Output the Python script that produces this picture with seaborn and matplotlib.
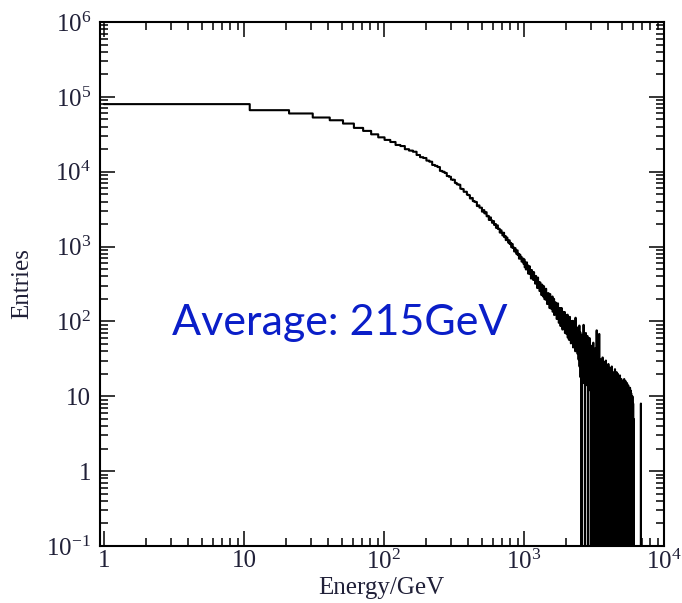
"""
Energy spectrum (Entries vs Energy/GeV) on log-log axes, step histogram
"""

import numpy as np
import pandas as pd
import matplotlib
matplotlib.use('Agg')
import matplotlib.pyplot as plt
import matplotlib.ticker as ticker
import seaborn as sns

# histogram binning (10 GeV bins starting at 1 GeV)
bin_start = 1
bin_width = 10

# 1 - 1001 GeV : smooth part of the spectrum
counts_low = [
    80000, 66400, 60000, 53000, 48700, 44000, 38500, 35100, 31600, 28800,
    26600, 24950, 22770, 22030, 19990, 19150, 18490, 16730, 15640, 15250,
    14080, 13610, 12310, 11970, 11550, 10260, 9980, 9630, 8760, 8570,
    7860, 7800, 7090, 6790, 6700, 5930, 5860, 5390, 5400, 4940,
    4860, 4400, 4460, 4050, 3990, 3940, 3480, 3550, 3310, 3310,
    2930, 3070, 2780, 2880, 2540, 2570, 2270, 2450, 2250, 2080,
    2190, 1950, 2000, 1780, 1920, 1720, 1730, 1540, 1650, 1530,
    1410, 1530, 1340, 1380, 1220, 1320, 1230, 1130, 1210, 1080,
    1120, 980, 1080, 960, 970, 860, 950, 870, 800, 890,
    770, 800, 690, 780, 700, 730, 630, 670, 690, 590,
]

# 1001 - 2501 GeV : steep fall, growing fluctuations
counts_mid = [
    670, 530, 605, 495, 615, 505, 560, 435, 500, 545,
    430, 480, 375, 485, 410, 450, 360, 455, 360, 385,
    320, 405, 335, 360, 280, 385, 315, 280, 335, 255,
    330, 255, 290, 225, 310, 245, 275, 215, 295, 230,
    198, 270, 216, 273, 193, 227, 171, 235, 200, 238,
    171, 212, 151, 232, 177, 207, 148, 187, 158, 215,
    135, 183, 153, 200, 122, 165, 135, 180, 125, 149,
    173, 108, 147, 124, 174, 110, 145, 96, 150, 121,
    106, 150, 87, 130, 111, 151, 92, 127, 78, 130,
    99, 134, 79, 114, 87, 133, 70, 104, 114, 75,
    122, 68, 99, 78, 123, 61, 102, 79, 106, 57,
    92, 66, 115, 57, 83, 101, 51, 87, 67, 100,
    53, 89, 65, 102, 45, 77, 64, 91, 46, 78,
    56, 87, 40, 112, 58, 74, 43, 77, 48, 64,
    78, 37, 65, 46, 84, 31, 60, 40, 88, 25,
]

# 2501 - 3001 GeV : first empty bins
counts_knee = [
    52, 30, 71, 18, 44, 62, 26, 0, 48, 35,
    21, 66, 40, 15, 58, 33, 90, 24, 45, 28,
    61, 19, 0, 52, 37, 14, 70, 29, 43, 22,
    56, 17, 38, 64, 25, 47, 0, 31, 13, 55,
    27, 42, 16, 60, 34, 20, 49, 12, 38, 23,
]

# 3001 - 6101 GeV : sparse tail
counts_tail = [
    0, 34, 12, 0, 47, 0, 21, 9, 0, 38,
    15, 0, 52, 0, 27, 6, 0, 41, 0, 19,
    0, 30, 0, 11, 44, 0, 8, 0, 36, 0,
    76, 0, 18, 0, 29, 0, 5, 40, 0, 14,
    0, 33, 0, 9, 68, 0, 22, 0, 0, 27,
    0, 12, 31, 0, 0, 19, 0, 28, 7, 0,
    24, 0, 0, 16, 33, 0, 6, 0, 21, 0,
    0, 29, 0, 10, 0, 25, 0, 0, 18, 4,
    0, 22, 0, 0, 30, 8, 0, 17, 0, 26,
    0, 0, 14, 0, 23, 0, 5, 19, 0, 0,
    27, 0, 9, 0, 0, 21, 0, 13, 0, 24,
    0, 6, 0, 18, 0, 0, 22, 0, 10, 0,
    16, 0, 0, 25, 0, 7, 0, 19, 0, 0,
    12, 0, 21, 0, 0, 15, 4, 0, 20, 0,
    0, 17, 0, 0, 9, 0, 23, 0, 14, 0,
    0, 19, 0, 6, 0, 16, 0, 0, 21, 0,
    11, 0, 18, 0, 0, 13, 0, 20, 0, 5,
    0, 15, 0, 0, 17, 0, 8, 0, 0, 16,
    0, 0, 12, 0, 19, 0, 0, 14, 0, 7,
    15, 0, 0, 10, 0, 17, 0, 0, 13, 0,
    0, 14, 0, 5, 0, 0, 16, 0, 11, 0,
    0, 9, 0, 0, 15, 0, 12, 0, 0, 17,
    0, 0, 13, 0, 6, 0, 14, 0, 0, 10,
    16, 0, 0, 11, 0, 0, 13, 0, 4, 0,
    0, 12, 0, 0, 15, 0, 0, 9, 0, 13,
    0, 0, 11, 0, 0, 14, 0, 6, 0, 0,
    12, 0, 0, 13, 0, 0, 10, 0, 0, 11,
    0, 0, 13, 0, 5, 0, 0, 12, 0, 0,
    9, 0, 0, 11, 0, 0, 0, 8, 0, 10,
    0, 0, 7, 0, 0, 10, 0, 0, 0, 6,
    0, 0, 8, 0, 0, 0, 5, 0, 0, 0,
]

# 6101 - 6901 GeV : one lone bin
counts_far = [0] * 74 + [8] + [0] * 5

x_ticks = [1, 10, 100, 1000, 10000]
x_tick_labels = ['1', '10', r'$10^{2}$', r'$10^{3}$', r'$10^{4}$']
y_ticks = [0.1, 1, 10, 100, 1e3, 1e4, 1e5, 1e6]
y_tick_labels = [r'$10^{-1}$', '1', '10', r'$10^{2}$', r'$10^{3}$',
                 r'$10^{4}$', r'$10^{5}$', r'$10^{6}$']

annotation = 'Average: 215GeV'

counts = np.array(counts_low + counts_mid + counts_knee + counts_tail + counts_far, dtype=float)
edges = (bin_start + bin_width * np.arange(len(counts) + 1)).tolist()
centers = np.array(edges[:-1]) + bin_width / 2
df = pd.DataFrame({'energy': centers, 'entries': counts})

sns.set_style('ticks')
plt.rcParams['font.family'] = ['Liberation Serif', 'DejaVu Serif']
plt.rcParams['mathtext.fontset'] = 'custom'
plt.rcParams['mathtext.rm'] = 'Liberation Serif'
plt.rcParams['mathtext.it'] = 'Liberation Serif:italic'
plt.rcParams['axes.edgecolor'] = 'black'

fig = plt.figure(figsize=(6.82, 6.03), dpi=100)
ax = fig.add_axes([0.1459, 0.0945, 0.8277, 0.869])

sns.histplot(data=df, x='energy', weights='entries', bins=edges,
             element='step', fill=False, color='black', linewidth=1.5, ax=ax)

ax.set_xscale('log')
ax.set_yscale('log')
ax.set_xlim(0.93, 1e4)
ax.set_ylim(0.1, 1e6)

ax.xaxis.set_major_locator(ticker.FixedLocator(x_ticks))
ax.xaxis.set_major_formatter(ticker.FixedFormatter(x_tick_labels))
ax.yaxis.set_major_locator(ticker.FixedLocator(y_ticks))
ax.yaxis.set_major_formatter(ticker.FixedFormatter(y_tick_labels))
ax.xaxis.set_minor_locator(ticker.LogLocator(base=10, subs=np.arange(2, 10), numticks=50))
ax.yaxis.set_minor_locator(ticker.LogLocator(base=10, subs=np.arange(2, 10), numticks=50))
ax.xaxis.set_minor_formatter(ticker.NullFormatter())
ax.yaxis.set_minor_formatter(ticker.NullFormatter())

for s in ax.spines.values():
    s.set_linewidth(1.5)
    s.set_color('black')

ax.tick_params(which='both', direction='in', top=True, right=True,
               color='black', width=1.1, labelsize=18, labelcolor='#202038')
ax.tick_params(which='major', length=11)
ax.tick_params(which='minor', length=6)
ax.tick_params(axis='x', which='major', pad=3)
ax.tick_params(axis='y', which='major', pad=6)

ax.set_xlabel('Energy/GeV', fontsize=18, color='#202038')
ax.set_ylabel('Entries', fontsize=18, color='#202038')
ax.xaxis.set_label_coords(0.5, -0.06)
ax.yaxis.set_label_coords(-0.118, 0.5)

ax.text(0.1284, 0.4027, annotation, transform=ax.transAxes,
        fontsize=31, family=['Lato', 'DejaVu Sans'], color='#0a1ec8',
        ha='left', va='baseline')

fig.savefig('out.png', dpi=100)
plt.close(fig)
